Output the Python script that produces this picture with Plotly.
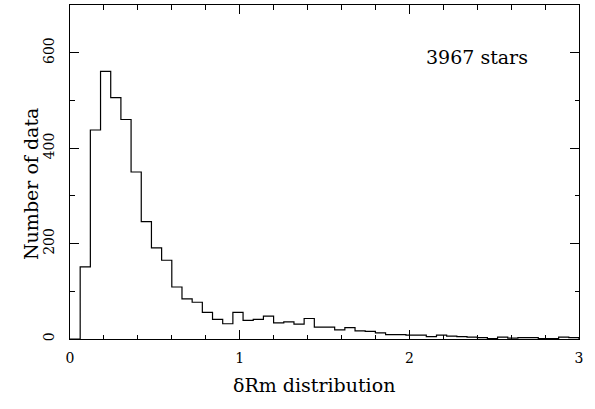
import plotly.graph_objects as go

# Histogram of dRm: bin width 0.06, from 0 to 3
bin_width = 0.06
bin_start = 0.0
counts = [
    0, 151, 438, 561, 506, 460, 350, 246, 191, 165,
    109, 84, 77, 56, 41, 32, 56, 39, 41, 48,
    34, 36, 31, 43, 25, 25, 19, 24, 17, 16,
    13, 9, 9, 8, 8, 5, 8, 6, 5, 4,
    3, 1, 4, 2, 3, 3, 1, 1, 4, 3,
]
n_stars_label = "3967 stars"
x_ticks = [0, 1, 2, 3]
y_ticks = [0, 200, 400, 600]

# Step outline: left edge of every bin, plus the closing right edge
edges = [round(bin_start + i * bin_width, 4) for i in range(len(counts) + 1)]
step_x = edges + [edges[-1]]
step_y = counts + [counts[-1], 0]

FONT = "DejaVu Serif"
TITLE_SIZE = 19
TICK_SIZE = 14

W, H = 595, 409
pl, pr, pt, pb = 70, 16, 5, 70
pw, ph = W - pl - pr, H - pt - pb

fig = go.Figure()
fig.add_trace(go.Scatter(
    x=step_x, y=step_y, mode="lines",
    line=dict(shape="hv", color="black", width=1.2),
    hoverinfo="skip", showlegend=False,
))

axis_common = dict(
    showgrid=False, zeroline=False, showline=True, linecolor="black",
    linewidth=1, mirror="allticks", ticks="inside", tickcolor="black",
    tickwidth=1, ticklen=9,
    tickfont=dict(family=FONT, size=TICK_SIZE, color="black"),
)

fig.update_xaxes(
    range=[0, 3], tickvals=x_ticks, ticktext=[str(v) for v in x_ticks],
    minor=dict(dtick=0.2, ticks="inside", ticklen=4.5, tickcolor="black", tickwidth=1),
    ticklabelstandoff=6,
    **axis_common,
)
fig.update_yaxes(
    range=[0, 700], tickvals=y_ticks, ticktext=[str(v) for v in y_ticks],
    tickangle=-90,
    minor=dict(dtick=100, ticks="inside", ticklen=4.5, tickcolor="black", tickwidth=1),
    ticklabelstandoff=9,
    **axis_common,
)

fig.add_annotation(
    x=2.4, y=590, xref="x", yref="y", text=n_stars_label, showarrow=False,
    xanchor="center", yanchor="middle",
    font=dict(family=FONT, size=TITLE_SIZE, color="black"),
)

# Axis titles placed in pixel terms relative to the plot area
fig.add_annotation(
    x=(314 - pl) / pw, y=(H - 385 - pb) / ph, xref="paper", yref="paper",
    text="δRm distribution", showarrow=False,
    xanchor="center", yanchor="middle",
    font=dict(family=FONT, size=TITLE_SIZE, color="black"),
)
fig.add_annotation(
    x=(31 - pl) / pw, y=(H - 184 - pb) / ph, xref="paper", yref="paper",
    text="Number of data", textangle=-90, showarrow=False,
    xanchor="center", yanchor="middle",
    font=dict(family=FONT, size=TITLE_SIZE, color="black"),
)

fig.update_layout(
    width=W, height=H,
    margin=dict(l=pl, r=pr, t=pt, b=pb),
    paper_bgcolor="white", plot_bgcolor="white",
)

fig.write_html("out.html")
